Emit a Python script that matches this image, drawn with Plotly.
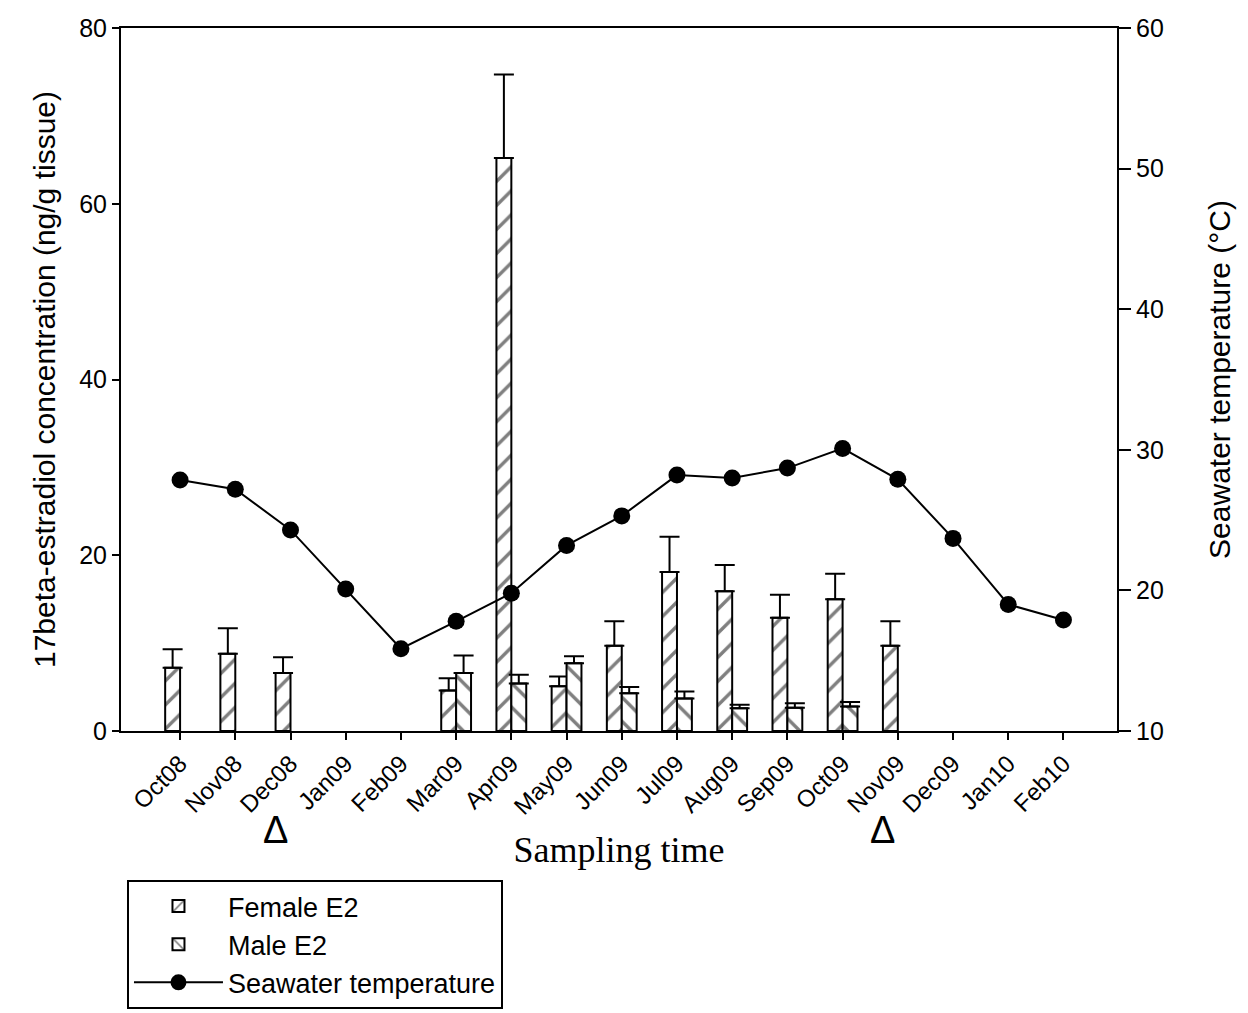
import plotly.graph_objects as go

months = ["Oct08", "Nov08", "Dec08", "Jan09", "Feb09", "Mar09", "Apr09", "May09",
          "Jun09", "Jul09", "Aug09", "Sep09", "Oct09", "Nov09", "Dec09", "Jan10", "Feb10"]

# Female E2 (ng/g tissue), None where no sample
female_e2 = [7.2, 8.8, 6.6, None, None, 4.6, 65.2, 5.1, 9.7, 18.1, 15.9, 12.9, 15.0, 9.7, None, None, None]
female_se = [2.1, 2.9, 1.8, None, None, 1.4, 9.5, 1.1, 2.8, 4.0, 3.0, 2.6, 2.9, 2.8, None, None, None]

# Male E2 (ng/g tissue)
male_e2 = [None, None, None, None, None, 6.6, 5.4, 7.7, 4.3, 3.7, 2.6, 2.65, 2.8, None, None, None, None]
male_se = [None, None, None, None, None, 2.0, 1.0, 0.8, 0.7, 0.8, 0.4, 0.5, 0.5, None, None, None, None]

# Seawater temperature (°C)
temperature = [27.85, 27.2, 24.3, 20.1, 15.85, 17.8, 19.8, 23.2, 25.3, 28.2, 28.0, 28.7, 30.1,
               27.9, 23.7, 19.0, 17.9]

# spawning markers under these months
spawn_months = ["Dec08", "Nov09"]

x = list(range(len(months)))
bar_w = 0.27
font_sans = "Liberation Sans, Arial, sans-serif"
font_serif = "Liberation Serif, Times New Roman, serif"

fig = go.Figure()

fig.add_trace(go.Bar(
    x=x, y=female_e2, name="Female E2", width=bar_w, offset=-bar_w,
    marker=dict(color="white", line=dict(color="black", width=2),
                pattern=dict(shape="/", fgcolor="black", bgcolor="white", size=17, solidity=0.2)),
    error_y=dict(type="data", array=female_se, arrayminus=[0] * len(x), symmetric=False,
                 color="black", thickness=2, width=10),
))
fig.add_trace(go.Bar(
    x=x, y=male_e2, name="Male E2", width=bar_w, offset=0,
    marker=dict(color="white", line=dict(color="black", width=2),
                pattern=dict(shape="\\", fgcolor="black", bgcolor="white", size=17, solidity=0.2)),
    error_y=dict(type="data", array=male_se, arrayminus=[0] * len(x), symmetric=False,
                 color="black", thickness=2, width=10),
))
fig.add_trace(go.Scatter(
    x=x, y=temperature, name="Seawater temperature", yaxis="y2", mode="lines+markers",
    line=dict(color="black", width=2),
    marker=dict(color="black", size=17, symbol="circle"),
))

for m in spawn_months:
    fig.add_annotation(x=months.index(m) - 0.27, xref="x", y=-0.141, yref="paper",
                       yanchor="middle", text="Δ", showarrow=False,
                       font=dict(family=font_sans, size=38, color="black"))

fig.update_layout(
    width=1248, height=1013,
    margin=dict(l=121, r=131, t=28, b=282, autoexpand=False),
    paper_bgcolor="white", plot_bgcolor="white",
    showlegend=True,
    barmode="overlay",
    legend=dict(x=0.006, y=-0.212, xanchor="left", yanchor="top",
                bordercolor="black", borderwidth=2, bgcolor="white",
                font=dict(family=font_sans, size=27, color="black"),
                itemwidth=89, tracegroupgap=0),
    xaxis=dict(
        range=[-1.07, 16.97], tickmode="array", tickvals=x, ticktext=months,
        tickangle=-45, ticks="outside", ticklen=7, tickwidth=2, tickcolor="black",
        showline=True, linecolor="black", linewidth=2, mirror=True,
        showgrid=False, zeroline=False,
        tickfont=dict(family=font_sans, size=24, color="black"),
        title=dict(text="Sampling time", standoff=18,
                   font=dict(family=font_serif, size=36, color="black")),
    ),
    yaxis=dict(
        range=[0, 80], tickvals=[0, 20, 40, 60, 80], ticks="outside", ticklen=7,
        tickwidth=2, tickcolor="black", showline=True, linecolor="black", linewidth=2,
        showgrid=False, zeroline=False,
        tickfont=dict(family=font_sans, size=25, color="black"),
        title=dict(text="17beta-estradiol concentration (ng/g tissue)", standoff=15,
                   font=dict(family=font_sans, size=30, color="black")),
    ),
    yaxis2=dict(
        range=[10, 60], tickvals=[10, 20, 30, 40, 50, 60], overlaying="y", side="right",
        ticks="outside", ticklen=12, tickwidth=2, tickcolor="black",
        showline=True, linecolor="black", linewidth=2, showgrid=False, zeroline=False,
        tickfont=dict(family=font_sans, size=25, color="black"),
        title=dict(text="Seawater temperature (°C)", standoff=46,
                   font=dict(family=font_sans, size=30, color="black")),
    ),
)

fig.write_html("out.html")
